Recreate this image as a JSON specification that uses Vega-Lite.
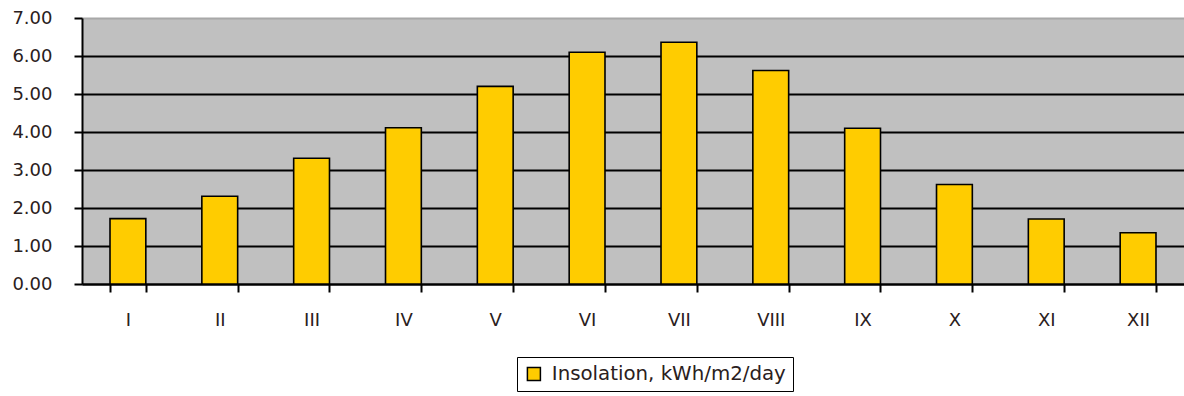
{
  "$schema": "https://vega.github.io/schema/vega-lite/v6.json",
  "autosize": {"type": "none"},
  "padding": {"left": 82, "top": 18, "right": 0, "bottom": 112},
  "width": 1102,
  "height": 266,
  "background": "white",
  "config": {
    "view": {"fill": "#C0C0C0", "stroke": null},
    "font": "DejaVu Sans"
  },
  "data": {
    "values": [
      {"month": "I", "series": "Insolation, kWh/m2/day", "value": 1.72},
      {"month": "II", "series": "Insolation, kWh/m2/day", "value": 2.31},
      {"month": "III", "series": "Insolation, kWh/m2/day", "value": 3.31},
      {"month": "IV", "series": "Insolation, kWh/m2/day", "value": 4.11},
      {"month": "V", "series": "Insolation, kWh/m2/day", "value": 5.2},
      {"month": "VI", "series": "Insolation, kWh/m2/day", "value": 6.1},
      {"month": "VII", "series": "Insolation, kWh/m2/day", "value": 6.36},
      {"month": "VIII", "series": "Insolation, kWh/m2/day", "value": 5.62},
      {"month": "IX", "series": "Insolation, kWh/m2/day", "value": 4.1},
      {"month": "X", "series": "Insolation, kWh/m2/day", "value": 2.62},
      {"month": "XI", "series": "Insolation, kWh/m2/day", "value": 1.71},
      {"month": "XII", "series": "Insolation, kWh/m2/day", "value": 1.35}
    ]
  },
  "mark": {"type": "bar", "stroke": "black", "strokeWidth": 1.6},
  "encoding": {
    "x": {
      "field": "month",
      "type": "nominal",
      "sort": null,
      "scale": {"paddingInner": 0.61, "paddingOuter": 0.305},
      "axis": {
        "title": null,
        "labelAngle": 0,
        "domainColor": "black",
        "domainWidth": 2,
        "tickColor": "black",
        "tickWidth": 2,
        "tickSize": 8,
        "tickBand": "extent",
        "labelPadding": 19,
        "labelFontSize": 18,
        "labelColor": "#2a2020",
        "grid": false
      }
    },
    "y": {
      "field": "value",
      "type": "quantitative",
      "scale": {"domain": [0, 7], "nice": false},
      "axis": {
        "title": null,
        "values": [0, 1, 2, 3, 4, 5, 6, 7],
        "format": ".2f",
        "domainColor": "black",
        "domainWidth": 2,
        "tickColor": "black",
        "tickWidth": 2,
        "tickSize": 8,
        "labelPadding": 22,
        "labelFontSize": 18,
        "labelColor": "#2a2020",
        "grid": true,
        "gridColor": {"condition": {"test": "datum.value === 7", "value": "#a8a8a8"}, "value": "black"},
        "gridWidth": 2,
        "gridOpacity": 1
      }
    },
    "fill": {
      "field": "series",
      "type": "nominal",
      "scale": {"range": ["#FFCC00"]},
      "legend": {
        "title": null,
        "orient": "none",
        "legendX": 435,
        "legendY": 339,
        "strokeColor": "black",
        "fillColor": "white",
        "padding": 7,
        "symbolType": "square",
        "symbolSize": 169,
        "symbolStrokeColor": "black",
        "symbolStrokeWidth": 1.5,
        "symbolOpacity": 1,
        "labelOffset": 8,
        "labelFontSize": 19.8,
        "labelColor": "#2a2020",
        "labelLimit": 400
      }
    }
  }
}
